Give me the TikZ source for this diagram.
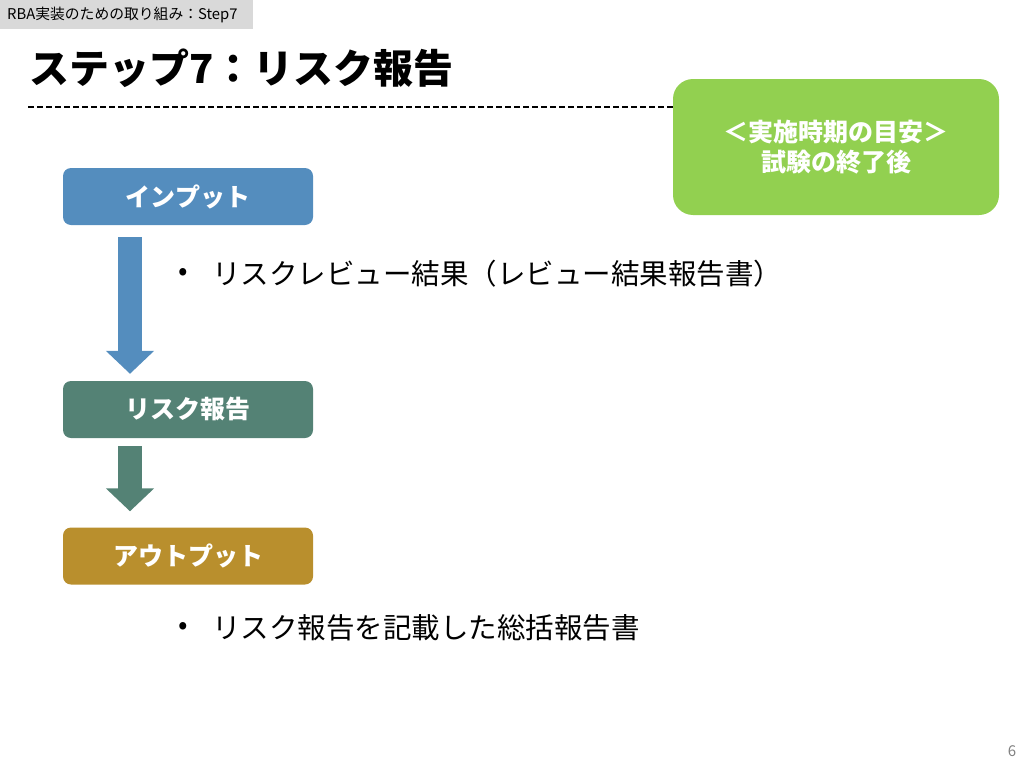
\documentclass[tikz,border=0pt]{standalone}
\usepackage{fontspec}
\setmainfont{Noto Sans CJK JP}
\usetikzlibrary{arrows.meta}
\definecolor{inblue}{HTML}{548DBE}
\definecolor{riskteal}{HTML}{548275}
\definecolor{outgold}{HTML}{B98F2D}
\definecolor{timegreen}{HTML}{92D050}
\definecolor{tabgray}{HTML}{D9D9D9}
\begin{document}
\begin{tikzpicture}[x=1pt,y=-1pt,
		stepbox/.style={rounded corners=8pt,minimum width=250pt,minimum height=57pt,inner sep=0pt,text=white,font=\fontsize{25}{27}\selectfont\bfseries},
		blockarrow/.style={line width=24pt,-{Triangle[length=23pt,width=47pt]}},
		listtext/.style={anchor=west,inner sep=0pt,font=\fontsize{28.5}{30}\selectfont}]
	\useasboundingbox (0,0) rectangle (1024,768);
	% header
	\fill[tabgray] (0,0) rectangle (253,29);
	\node[anchor=west,inner sep=0pt,font=\fontsize{14.8}{16}\selectfont] (tab) at (7,14.5) {RBA実装のための取り組み：Step7};
	\node[anchor=west,inner sep=0pt,font=\fontsize{40}{42}\selectfont\bfseries] (title) at (29,68) {ステップ7：リスク報告};
	\draw[line width=1.6pt,dash pattern=on 6pt off 3pt] (28,107) -- (673,107);
	\node[fill=timegreen,rounded corners=20pt,minimum width=326pt,minimum height=136pt,align=center,text=white,font=\fontsize{25}{30}\selectfont\bfseries] (timing) at (836,147) {＜実施時期の目安＞\\試験の終了後};
	% flow
	\node[stepbox,fill=inblue] (inp) at (188,196.5) {インプット};
	\node[stepbox,fill=riskteal] (risk) at (188,409.5) {リスク報告};
	\node[stepbox,fill=outgold] (outp) at (188,556) {アウトプット};
	\draw[blockarrow,inblue] ([shift={(-58pt,-12pt)}]inp.south) -- ([shift={(-58pt,7pt)}]risk.north);
	\draw[blockarrow,riskteal] ([shift={(-58pt,-8pt)}]risk.south) -- ([shift={(-58pt,16pt)}]outp.north);
	% lists
	\foreach \y/\name/\txt in {274/inlist/リスクレビュー結果（レビュー結果報告書）,628/outlist/リスク報告を記載した総括報告書}{
		\node[font=\fontsize{28}{30}\selectfont] (\name dot) at (183,\y) {•};
		\node[listtext] (\name) at (212,\y) {\txt};
	}
	\node[text=gray,font=\fontsize{15}{16}\selectfont] (page) at (1012,751) {6};
\end{tikzpicture}
\end{document}
